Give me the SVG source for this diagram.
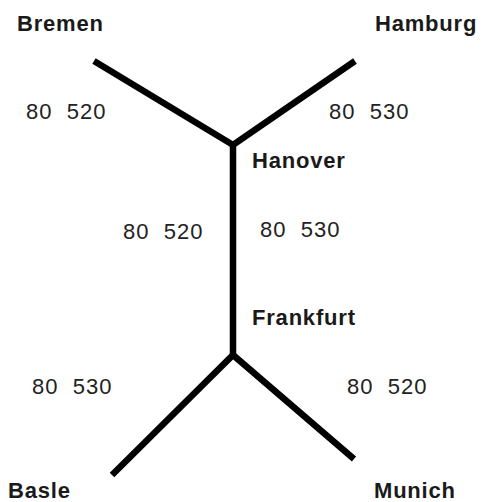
<svg xmlns="http://www.w3.org/2000/svg" width="482" height="502" viewBox="0 0 482 502">
<style>
.city{font-family:"Liberation Sans",Arial,sans-serif;font-weight:bold;font-size:22px;letter-spacing:0.8px;fill:#1a1a1a}
.num{font-family:"Liberation Sans",Arial,sans-serif;font-size:22px;letter-spacing:1px;fill:#222;white-space:pre}
.edge{stroke:#000;stroke-width:6.5;fill:none;stroke-linecap:butt;stroke-linejoin:miter}
</style>
<rect width="482" height="502" fill="#fff"/>
<g id="connectors">
<polyline class="edge" points="94,61 233,145 355,61"/>
<polyline class="edge" points="112,475 233,355 354,459"/>
<line class="edge" x1="233" y1="145" x2="233" y2="355"/>
</g>
<g id="labels">
<text class="num" x="26" y="119" xml:space="preserve">80  520</text>
<text class="num" x="329" y="119" xml:space="preserve">80  530</text>
<text class="num" x="123" y="239" xml:space="preserve">80  520</text>
<text class="num" x="260" y="237" xml:space="preserve">80  530</text>
<text class="num" x="32" y="394" xml:space="preserve">80  530</text>
<text class="num" x="347" y="394" xml:space="preserve">80  520</text>
</g>
<g id="Bremen"><text class="city" x="17" y="31">Bremen</text></g>
<g id="Hamburg"><text class="city" x="375" y="31">Hamburg</text></g>
<g id="Hanover"><text class="city" x="252" y="168">Hanover</text></g>
<g id="Frankfurt"><text class="city" x="252" y="325">Frankfurt</text></g>
<g id="Basle"><text class="city" x="8" y="498">Basle</text></g>
<g id="Munich"><text class="city" x="374" y="498">Munich</text></g>
</svg>
